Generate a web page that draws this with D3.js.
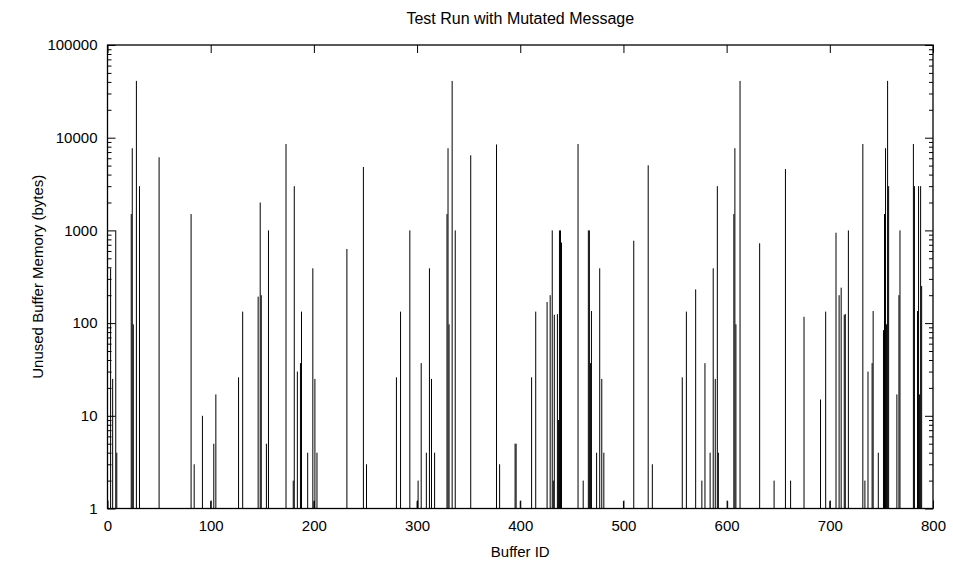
<!DOCTYPE html>
<html>
<head>
<meta charset="utf-8">
<script src="https://cdn.jsdelivr.net/npm/d3@7"></script>
<style>
  body { margin: 0; background: #fff; }
  svg text { font-family: "Liberation Sans", Arial, sans-serif; fill: #000; }
</style>
</head>
<body>
<svg id="chart" width="953" height="565"></svg>
<script>
// Buffer IDs that hold unused memory, and how many bytes each one has
const bufferIds = [
  3, 5, 8, 9, 23, 24, 25, 28, 31, 50, 81, 84, 92, 100, 103, 105, 127, 131,
  146, 148, 149, 154, 156, 173, 180, 181, 184, 187, 188, 194, 199, 200, 201, 203,
  232, 248, 251, 280, 284, 293, 300, 301, 304, 309, 312, 314, 317,
  329, 330, 331, 334, 337, 352, 377, 380, 395, 396, 400,
  411, 415, 426, 429, 431, 432, 433, 436, 437, 438, 439, 440,
  456, 461, 466, 467, 468, 469, 474, 477, 479, 481, 500, 510, 524, 528,
  557, 561, 570, 576, 579, 584, 587, 589, 591, 592, 601, 607, 608, 609, 613,
  632, 646, 657, 662, 675, 691, 696, 700, 706, 709, 711, 714, 715, 718,
  732, 734, 737, 741, 742, 747, 752, 753, 754, 755, 756, 757, 765, 767, 768,
  781, 782, 785, 786, 787, 788, 789
];
const unusedBytes = [
  390, 25, 1000, 4, 1500, 7700, 97, 41000, 3000, 6150, 1500, 3, 10, 1.2, 5, 17, 26, 133,
  193, 2000, 200, 5, 1000, 8550, 2, 3000, 30, 37, 133, 4, 390, 1.2, 25, 4,
  630, 4830, 3, 26, 133, 1000, 1.2, 2, 37, 4, 390, 25, 4,
  1500, 7700, 97, 41000, 1000, 6460, 8450, 3, 5, 5, 1.2,
  26, 133, 169, 200, 1000, 2, 123, 125, 9, 1000, 1000, 740,
  8550, 2, 1000, 1000, 37, 135, 4, 390, 25, 4, 1.2, 774, 5040, 3,
  26, 133, 231, 2, 37, 4, 390, 25, 3000, 4, 1.2, 1500, 7700, 97, 41000,
  726, 2, 4590, 2, 117, 15, 133, 1.2, 944, 200, 241, 123, 125, 1000,
  8550, 2, 30, 37, 135, 4, 84, 1500, 7700, 97, 41000, 3000, 17, 200, 1000,
  8550, 3000, 135, 3000, 17, 3000, 251
];

// Tick values
const xTicks = [0, 100, 200, 300, 400, 500, 600, 700, 800];
const yTicks = [1, 10, 100, 1000, 10000, 100000];

const data = bufferIds.map((id, i) => ({ id: id, bytes: unusedBytes[i] }));

const margin = { top: 45, right: 20, bottom: 56.5, left: 107.5 };
const width = 953 - margin.left - margin.right;
const height = 565 - margin.top - margin.bottom;

const svg = d3.select("#chart");
const g = svg.append("g")
    .attr("transform", `translate(${margin.left}, ${margin.top})`);

const x = d3.scaleLinear().domain([0, 800]).range([0, width]);
const y = d3.scaleLog().domain([1, 100000]).range([height, 0]);

// minor log ticks: 2..9 in every decade
const minorTicks = [];
for (let d = 1; d < 100000; d *= 10) {
    for (let k = 2; k <= 9; k++) minorTicks.push(d * k);
}

// impulses
g.selectAll(".impulse")
    .data(data)
    .enter()
    .append("line")
    .attr("class", "impulse")
    .attr("x1", d => x(d.id))
    .attr("x2", d => x(d.id))
    .attr("y1", y(1))
    .attr("y2", d => y(d.bytes))
    .attr("stroke", "#000")
    .attr("stroke-width", 1);

// axes, ticks point inward like gnuplot
const fmt = d3.format("d");
g.append("g").attr("class", "y-axis")
    .call(d3.axisLeft(y).tickValues(yTicks).tickFormat(fmt).tickSize(-8).tickPadding(10));
g.append("g").attr("class", "y-minor")
    .call(d3.axisLeft(y).tickValues(minorTicks).tickFormat("").tickSize(-4));
g.append("g").attr("class", "y-right")
    .attr("transform", `translate(${width}, 0)`)
    .call(d3.axisRight(y).tickValues(yTicks).tickFormat("").tickSize(-8));
g.append("g").attr("class", "y-right-minor")
    .attr("transform", `translate(${width}, 0)`)
    .call(d3.axisRight(y).tickValues(minorTicks).tickFormat("").tickSize(-4));
g.append("g").attr("class", "x-axis")
    .attr("transform", `translate(0, ${height})`)
    .call(d3.axisBottom(x).tickValues(xTicks).tickFormat(fmt).tickSize(-8).tickPadding(12));
g.append("g").attr("class", "x-top")
    .call(d3.axisTop(x).tickValues(xTicks).tickFormat("").tickSize(-8));

g.selectAll(".domain").remove();
g.selectAll(".tick line").attr("stroke", "#000");
g.selectAll(".tick text").style("font-size", "15px");

// frame
g.append("rect")
    .attr("width", width)
    .attr("height", height)
    .attr("fill", "none")
    .attr("stroke", "#000")
    .attr("stroke-width", 1.3);

// title and axis labels
svg.append("text")
    .attr("x", margin.left + width / 2)
    .attr("y", 24)
    .attr("text-anchor", "middle")
    .style("font-size", "16px")
    .text("Test Run with Mutated Message");

svg.append("text")
    .attr("x", margin.left + width / 2)
    .attr("y", 557)
    .attr("text-anchor", "middle")
    .style("font-size", "15px")
    .text("Buffer ID");

svg.append("text")
    .attr("transform", `translate(43, ${margin.top + height / 2}) rotate(-90)`)
    .attr("text-anchor", "middle")
    .style("font-size", "15px")
    .text("Unused Buffer Memory (bytes)");
</script>
</body>
</html>
